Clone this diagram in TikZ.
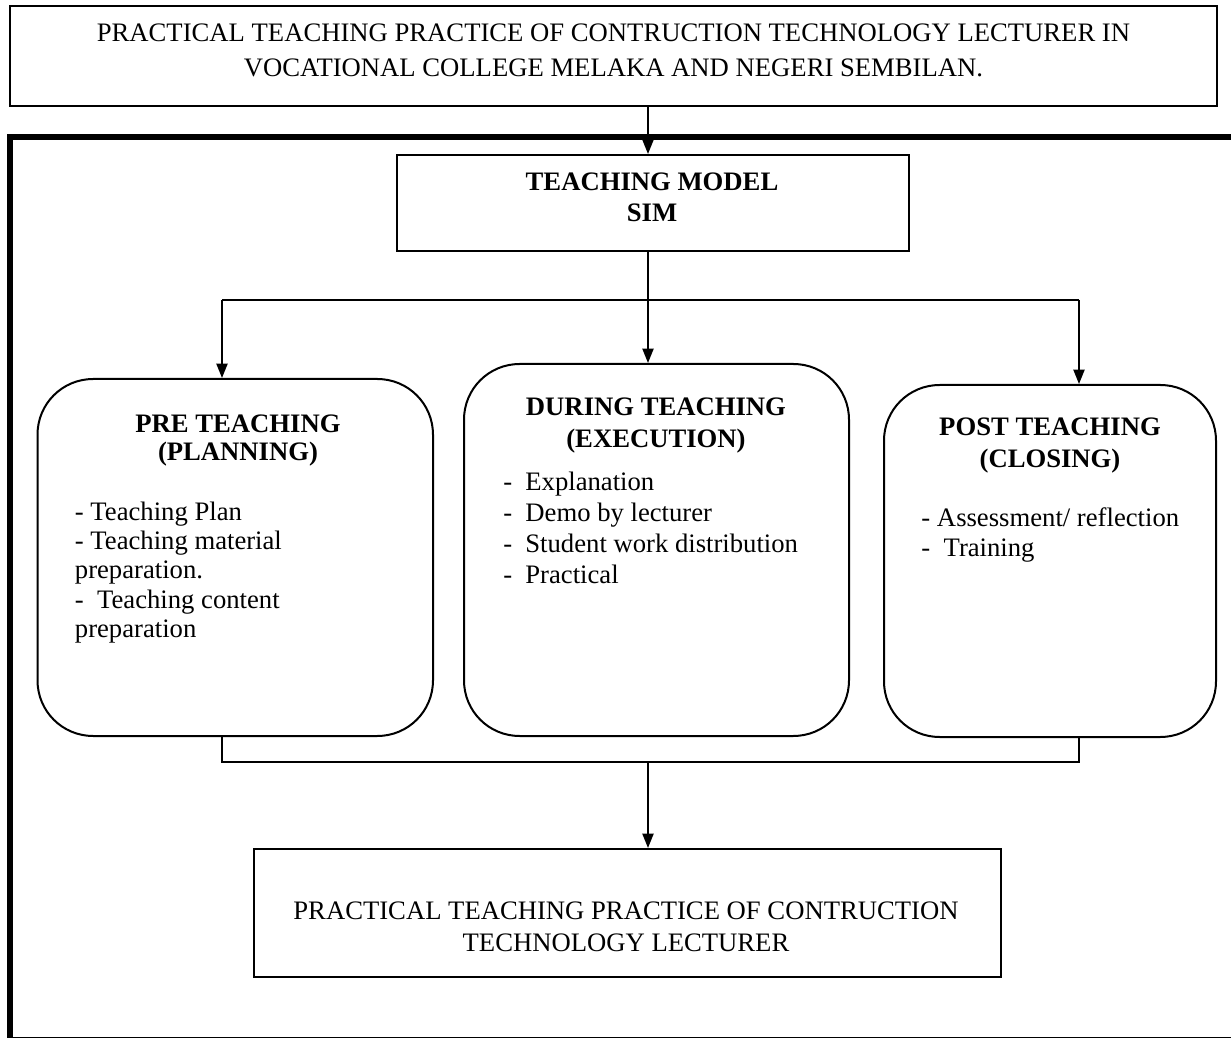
\documentclass[tikz,border=0pt]{standalone}
\usepackage{fontspec}
\setmainfont{Liberation Serif}
\usetikzlibrary{arrows.meta}

\newcommand{\pu}{0.45pt}

\begin{document}
\begin{tikzpicture}[x=0.45pt,y=-0.45pt,
    every node/.style={inner sep=0pt},
    squarebox/.style={draw,line width=0.9pt},
    roundbox/.style={draw,line width=0.9pt,rounded corners=25pt},
    flow/.style={line width=0.9pt,-{Triangle[length=6.5pt,width=5pt]}},
    link/.style={line width=0.9pt},
    heading/.style={font=\bfseries,align=center,anchor=north},
    items/.style={align=left,anchor=north west}]
\useasboundingbox (0,0) rectangle (1231,1038);

% outer frame
\draw[line width=2.5pt] (1245,137) -- (10,137) -- (10,1039.5) -- (1245,1039.5);

% boxes
\node[squarebox,minimum width=1207*\pu,minimum height=100*\pu] (title) at (613.5,56) {};
\node[font=\fontsize{12}{15.75}\selectfont,align=center] (titletxt) at (613.5,50.7)
    {PRACTICAL TEACHING PRACTICE OF CONTRUCTION TECHNOLOGY LECTURER IN\\
     VOCATIONAL COLLEGE MELAKA AND NEGERI SEMBILAN.};

\node[squarebox,minimum width=512*\pu,minimum height=96*\pu] (model) at (653,203) {};
\node[font=\bfseries\fontsize{12}{14}\selectfont,align=center] (modeltxt) at (652,197.7)
    {TEACHING MODEL\\SIM};

\node[roundbox,minimum width=395.5*\pu,minimum height=357*\pu] (pre) at (235.25,557.5) {};
\node[heading,font=\bfseries\fontsize{12}{12.6}\selectfont] (pretitle) at (238,414.3)
    {PRE TEACHING\\(PLANNING)};
\node[items,font=\fontsize{12}{13.1}\selectfont] (prelist) at (74.5,501.8)
    {- Teaching Plan\\
     - Teaching material\\
     preparation.\\
     -\ \ Teaching content\\
     preparation};

\node[roundbox,minimum width=385*\pu,minimum height=372*\pu] (during) at (656.5,550) {};
\node[heading,font=\bfseries\fontsize{12}{14.4}\selectfont] (duringtitle) at (656,397.3)
    {DURING TEACHING\\(EXECUTION)};
\node[items,font=\fontsize{12}{13.9}\selectfont] (duringlist) at (503,471.8)
    {\makebox[9.9pt][l]{-}Explanation\\
     \makebox[9.9pt][l]{-}Demo by lecturer\\
     \makebox[9.9pt][l]{-}Student work distribution\\
     \makebox[9.9pt][l]{-}Practical};

\node[roundbox,minimum width=332*\pu,minimum height=352*\pu] (post) at (1050,561) {};
\node[heading,font=\bfseries\fontsize{12}{14.4}\selectfont] (posttitle) at (1050,417.3)
    {POST TEACHING\\(CLOSING)};
\node[items,font=\fontsize{12}{13.5}\selectfont] (postlist) at (921,506.8)
    {- Assessment/ reflection\\
     -\ \ Training};

\node[squarebox,minimum width=747*\pu,minimum height=128*\pu] (final) at (627.5,913) {};
\node[font=\fontsize{12}{14.4}\selectfont,align=center] (finaltxt) at (626,927.2)
    {PRACTICAL TEACHING PRACTICE OF CONTRUCTION\\TECHNOLOGY LECTURER};

% branch and join points
\coordinate (split) at (648,300);
\coordinate (splitL) at (222,300);
\coordinate (splitR) at (1079,300);
\coordinate (join) at (648,762);
\coordinate (joinL) at (222,762);
\coordinate (joinR) at (1079,762);

% connectors
\draw[flow] (title.south -| split) -- (model.north -| split);
\draw[link] (model.south -| split) -- (split);
\draw[link] (splitL) -- (splitR);
\draw[flow] (splitL) -- (splitL |- pre.north);
\draw[flow] (split) -- (split |- during.north);
\draw[flow] (splitR) -- (splitR |- post.north);
\draw[link] (pre.south -| joinL) -- (joinL) -- (joinR) -- (post.south -| joinR);
\draw[flow] (join) -- (join |- final.north);
\end{tikzpicture}
\end{document}
